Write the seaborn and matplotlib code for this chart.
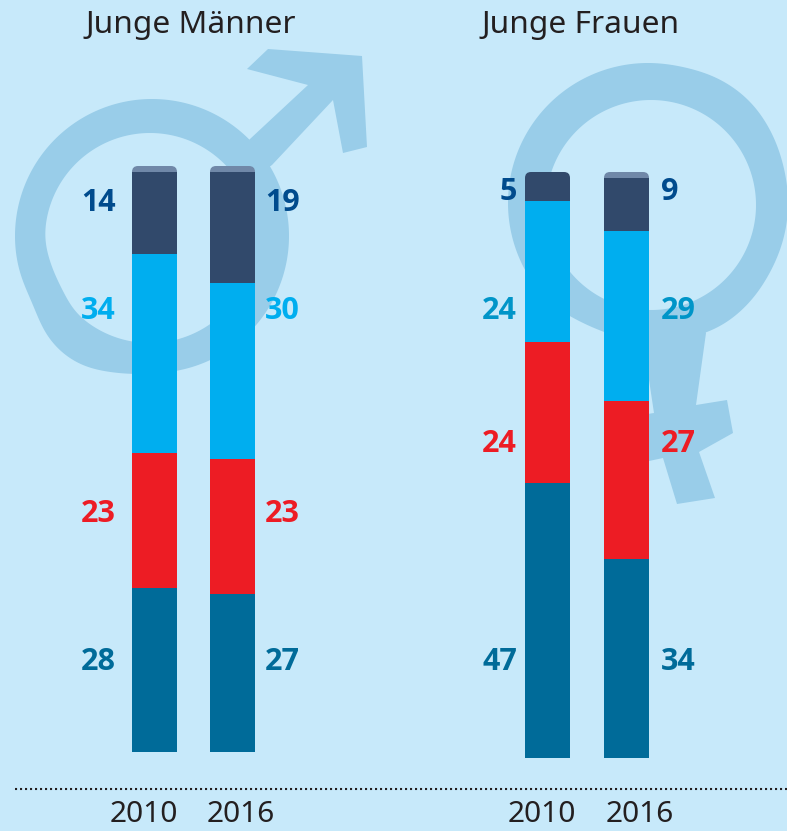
import numpy as np
import seaborn as sns
import matplotlib
matplotlib.use("Agg")
import matplotlib.pyplot as plt
from matplotlib.patches import FancyBboxPatch, PathPatch, Polygon
from matplotlib.path import Path
from matplotlib.transforms import IdentityTransform

# -----------------------------
# DATA
# -----------------------------
years = ["2010", "2016"]

men_top = [1, 1]
men_navy = [14, 19]
men_cyan = [34, 30]
men_red = [23, 23]
men_teal = [28, 27]

women_top = [0, 1]
women_navy = [5, 9]
women_cyan = [24, 29]
women_red = [24, 27]
women_teal = [47, 34]

# -----------------------------
# STYLE
# -----------------------------
W, H = 787, 831
BG = "#C7E9FA"
SYMBOL = "#99CDE9"
TEXT = "#231F20"
CAP = "#7088A8"
NAVY = "#31496B"
CYAN = "#00AEEF"
RED = "#ED1C24"
TEAL = "#006B99"

sns.set_theme(style="white")
plt.rcParams["font.family"] = ["Noto Sans", "DejaVu Sans"]

fig = plt.figure(figsize=(W / 100, H / 100), dpi=100, facecolor=BG)


def px_axes(left, top, right, bottom):
    return fig.add_axes([left / W, 1 - bottom / H, (right - left) / W, (bottom - top) / H])


def outline(cx, cy, r, bulge):
    # circle with a few radii pushed out, bulge = {angle in degrees: radius}
    angles = np.arange(0, 360, 15)
    radii = np.array([bulge.get(int(a), r) for a in angles], dtype=float)
    fine = np.linspace(0, 360, 360, endpoint=False)
    rr = np.interp(fine, np.r_[angles, 360], np.r_[radii, radii[0]])
    # light smoothing so the bulge has no corners
    kernel = np.hanning(31)
    kernel = kernel / kernel.sum()
    rr = np.convolve(np.r_[rr[-15:], rr, rr[:15]], kernel, mode="valid")
    t = np.radians(fine)
    return np.c_[cx + rr * np.cos(t), cy + rr * np.sin(t)]


def ring(ax, outer, inner):
    a, b = outer, inner[::-1]
    verts = np.vstack([a, a[:1], b, b[:1]])
    codes = ([Path.MOVETO] + [Path.LINETO] * (len(a) - 1) + [Path.CLOSEPOLY]
             + [Path.MOVETO] + [Path.LINETO] * (len(b) - 1) + [Path.CLOSEPOLY])
    ax.add_patch(PathPatch(Path(verts, codes), fc=SYMBOL, ec="none", zorder=1))


# -----------------------------
# BACKGROUND LAYER (symbols, text)
# -----------------------------
bg = fig.add_axes([0, 0, 1, 1])
bg.set_xlim(0, W)
bg.set_ylim(H, 0)
bg.axis("off")

ring(bg,
     outline(152, 236, 137, {105: 141, 120: 148, 135: 146, 150: 136}),
     outline(150, 238, 105, {150: 101, 165: 102}))
bg.add_patch(Polygon([(240, 150), (250, 139), (308, 85), (247, 69), (268, 49), (362, 56), (367, 147),
                      (343, 153), (333, 100), (272, 165), (262, 172)],
                     fc=SYMBOL, ec="none", zorder=1))

ring(bg,
     outline(648, 203, 140, {300: 143, 315: 144, 330: 142, 45: 142, 60: 143, 105: 136, 120: 136}),
     outline(651, 205, 105, {}))
bg.add_patch(Polygon([(706, 333), (696, 405), (727, 400), (733, 433), (699, 452), (715, 498),
                      (677, 504), (663, 458), (635, 464), (635, 416), (654, 413), (640, 320), (700, 320)],
                     fc=SYMBOL, ec="none", zorder=1))

bg.text(191, 25, "Junge Männer", fontsize=22.8, color=TEXT, ha="center", va="center")
bg.text(581, 25, "Junge Frauen", fontsize=22.8, color=TEXT, ha="center", va="center")

bg.plot([15, W], [789, 789], color=TEXT, lw=1.5, linestyle=(0, (1, 1.4)), zorder=2)

for x, label in zip([144, 241, 542, 640], years + years):
    bg.text(x, 822, label, fontsize=21.5, color=TEXT, ha="center", va="baseline")


# -----------------------------
# STACKED BARS
# -----------------------------
def stacked(ax, segments, colors, width):
    bottoms = np.zeros(len(years))
    groups = []
    for values, color in zip(segments, colors):
        before = len(ax.patches)
        sns.barplot(x=years, y=values, bottom=bottoms, color=color, saturation=1,
                    width=width, linewidth=0, edgecolor="none", ax=ax)
        groups.append(ax.patches[before:])
        bottoms = bottoms + np.array(values)
    ax.set_ylim(0, 100)
    ax.set_xlim(-0.5, 1.5)
    ax.patch.set_alpha(0)
    ax.set_xticks([])
    ax.set_yticks([])
    sns.despine(ax=ax, left=True, bottom=True)
    # rounded tops, radius in pixels
    for i in range(len(years)):
        bar = groups[0][i]
        (x0, y0), (x1, y1) = ax.transData.transform(
            [(bar.get_x(), 0), (bar.get_x() + bar.get_width(), bottoms[i])])
        clip = FancyBboxPatch((x0 + 6, y0 - 20), x1 - x0 - 12, y1 - y0 + 14,
                              boxstyle="round,pad=6,rounding_size=6",
                              transform=IdentityTransform())
        for group in groups:
            group[i].set_clip_path(clip)


men_ax = px_axes(115.5, 166, 271.5, 752)
stacked(men_ax, [men_teal, men_red, men_cyan, men_navy, men_top],
        [TEAL, RED, CYAN, NAVY, CAP], 45 / 78)

women_ax = px_axes(508, 172, 666, 758)
stacked(women_ax, [women_teal, women_red, women_cyan, women_navy, women_top],
        [TEAL, RED, CYAN, NAVY, CAP], 45 / 79)

# -----------------------------
# VALUE LABELS
# -----------------------------
LABEL_NAVY = "#004B8D"
LABEL_CYAN = "#00AEEF"
LABEL_MID = "#0095C8"


def labels(values_by_year, ys, cols, x_right, x_left):
    for values, y, color in zip(values_by_year, ys, cols):
        bg.text(x_right, y, str(values[0]), fontsize=22, fontweight="bold", family="Open Sans",
                color=color, ha="right", va="center")
        bg.text(x_left, y, str(values[1]), fontsize=22, fontweight="bold", family="Open Sans",
                color=color, ha="left", va="center")


labels([men_navy, men_cyan, men_red, men_teal], [203, 311, 514, 662],
       [LABEL_NAVY, LABEL_CYAN, RED, TEAL], 116, 265)
labels([women_navy, women_cyan, women_red, women_teal], [192, 311, 444, 662],
       [LABEL_NAVY, LABEL_MID, RED, TEAL], 517, 661)

plt.savefig("out.png", dpi=100, facecolor=BG)
